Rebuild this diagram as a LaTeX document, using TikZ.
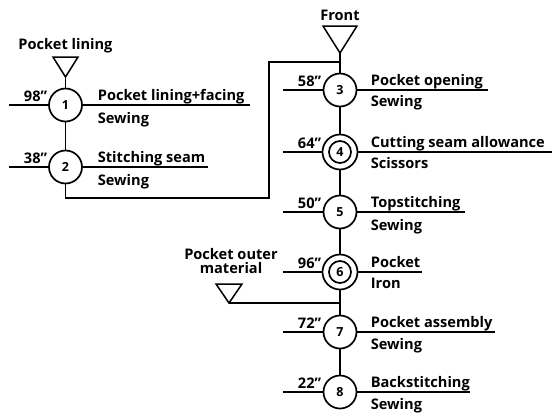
\documentclass[tikz,border=0pt]{standalone}
\usepackage{fontspec}
\setmainfont{Open Sans}
\begin{document}
\begin{tikzpicture}[x=1pt,y=-1pt,line width=1.7pt,
  proc/.style={circle,draw,fill=white,minimum size=33pt,inner sep=0pt,font=\bfseries\fontsize{12.5}{12.5}\selectfont},
  dproc/.style={circle,draw,fill=white,minimum size=35pt,inner sep=0pt,font=\bfseries\fontsize{12.5}{12.5}\selectfont},
  inner/.style={line width=1.7pt},
  lbl/.style={font=\bfseries\fontsize{14.6}{14.6}\selectfont,inner sep=0pt},
  tri/.style={line width=1.5pt}]
\useasboundingbox (0,0) rectangle (552,413);
\coordinate (a1) at (9,105); \coordinate (b1) at (250,105);
\coordinate (a2) at (9,167); \coordinate (b2) at (208,167);
\coordinate (a3) at (283,90); \coordinate (b3) at (488,90);
\coordinate (a4) at (283,152); \coordinate (b4) at (552,152);
\coordinate (a5) at (283,212); \coordinate (b5) at (465,212);
\coordinate (a6) at (283,272); \coordinate (b6) at (422,272);
\coordinate (a7) at (283,332); \coordinate (b7) at (495,332);
\coordinate (a8) at (283,392); \coordinate (b8) at (470,392);
\draw (a1) -- (b1); \draw (a2) -- (b2);
\draw (a3) -- (b3); \draw (a4) -- (b4); \draw (a5) -- (b5);
\draw (a6) -- (b6); \draw (a7) -- (b7); \draw (a8) -- (b8);
% triangles
\coordinate (t1) at (65.5,77); \coordinate (t2) at (340,53); \coordinate (t3) at (229,303);
\draw[tri] (53,57) -- (78,57) -- (t1) -- cycle;
\draw[tri] (323,26) -- (357,26) -- (t2) -- cycle;
\draw[tri] (216,284) -- (242,284) -- (t3) -- cycle;
\node[lbl] (lt1) at (65.5,46) {Pocket lining};
\node[lbl] (lt2) at (340,15) {Front};
\node[lbl,align=center] (lt3) at (231,261) {Pocket outer\\[-1pt]material};
% connectors
\coordinate (k1) at (65.5,198); \coordinate (k2) at (269,198);
\coordinate (k3) at (269,62); \coordinate (k4) at (340,62);
\coordinate (k5) at (340,303);
\draw (t1) -- (65.5,167);
\draw (65.5,105) -- (k1) -- (k2) -- (k3) -- (k4);
\draw (t2) -- (340,392);
\draw (t3) -- (k5);
% process circles
\node[proc] (c1) at (65.5,105) {1};
\node[proc] (c2) at (65.5,167) {2};
\node[proc] (c3) at (340,90) {3};
\node[dproc] (c4) at (340,152) {4};
\node[proc] (c5) at (340,212) {5};
\node[dproc] (c6) at (340,272) {6};
\node[proc] (c7) at (340,332) {7};
\node[proc] (c8) at (340,392) {8};
\draw[inner] (c4.center) circle (11pt);
\draw[inner] (c6.center) circle (11pt);
% times
\node[lbl,anchor=south east] (m1) at (48,102) {98”};
\node[lbl,anchor=south east] (m2) at (48,164) {38”};
\node[lbl,anchor=south east] (m3) at (322,87) {58”};
\node[lbl,anchor=south east] (m4) at (322,149) {64”};
\node[lbl,anchor=south east] (m5) at (322,209) {50”};
\node[lbl,anchor=south east] (m6) at (322,269) {96”};
\node[lbl,anchor=south east] (m7) at (322,329) {72”};
\node[lbl,anchor=south east] (m8) at (322,389) {22”};
% process names
\node[lbl,anchor=base west] (p1) at (97,100) {Pocket lining+facing};
\node[lbl,anchor=base west] (p2) at (97,162) {Stitching seam};
\node[lbl,anchor=base west] (p3) at (370,85) {Pocket opening};
\node[lbl,anchor=base west] (p4) at (370,147) {Cutting seam allowance};
\node[lbl,anchor=base west] (p5) at (370,207) {Topstitching};
\node[lbl,anchor=base west] (p6) at (370,267) {Pocket};
\node[lbl,anchor=base west] (p7) at (370,327) {Pocket assembly};
\node[lbl,anchor=base west] (p8) at (370,387) {Backstitching};
% tools
\node[lbl,anchor=base west] (q1) at (97,123) {Sewing};
\node[lbl,anchor=base west] (q2) at (97,185) {Sewing};
\node[lbl,anchor=base west] (q3) at (370,106) {Sewing};
\node[lbl,anchor=base west] (q4) at (370,168) {Scissors};
\node[lbl,anchor=base west] (q5) at (370,230) {Sewing};
\node[lbl,anchor=base west] (q6) at (370,288) {Iron};
\node[lbl,anchor=base west] (q7) at (370,349) {Sewing};
\node[lbl,anchor=base west] (q8) at (370,409) {Sewing};
\end{tikzpicture}
\end{document}
